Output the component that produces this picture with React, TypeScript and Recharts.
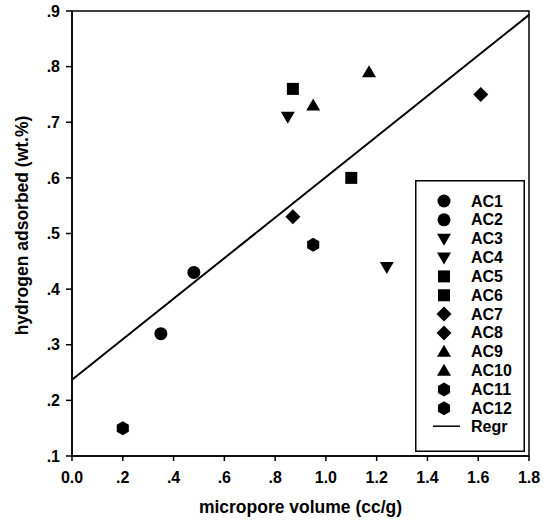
import { ScatterChart, Scatter, XAxis, YAxis, ReferenceArea, ReferenceLine, Legend } from 'recharts'

const FONT = '"Liberation Sans", Arial, Helvetica, sans-serif'

const WIDTH = 551
const HEIGHT = 520

// samples
const sampleNames = ['AC1', 'AC2', 'AC3', 'AC4', 'AC5', 'AC6', 'AC7', 'AC8', 'AC9', 'AC10', 'AC11', 'AC12']
const microporeVolume = [0.35, 0.48, 0.85, 1.24, 0.87, 1.1, 0.87, 1.61, 0.95, 1.17, 0.2, 0.95]
const hydrogenAdsorbed = [0.32, 0.43, 0.71, 0.44, 0.76, 0.6, 0.53, 0.75, 0.73, 0.79, 0.15, 0.48]
const sampleMarkers = ['circle', 'circle', 'down', 'down', 'square', 'square', 'diamond', 'diamond', 'up', 'up', 'hexagon', 'hexagon']

// regression line end points
const regrX = [0, 1.8]
const regrY = [0.237, 0.893]

const xTicks = [0, 0.2, 0.4, 0.6, 0.8, 1.0, 1.2, 1.4, 1.6, 1.8]
const xTickLabels = ['0.0', '.2', '.4', '.6', '.8', '1.0', '1.2', '1.4', '1.6', '1.8']
const yTicks = [0.1, 0.2, 0.3, 0.4, 0.5, 0.6, 0.7, 0.8, 0.9]
const yTickLabels = ['.1', '.2', '.3', '.4', '.5', '.6', '.7', '.8', '.9']

type MarkerKind = string

function Marker({ kind, cx, cy }: { kind: MarkerKind; cx: number; cy: number }) {
  switch (kind) {
    case 'circle':
      return <circle cx={cx} cy={cy} r={6.5} fill="#000" />
    case 'square':
      return <rect x={cx - 6} y={cy - 6} width={12} height={12} fill="#000" />
    case 'diamond':
      return (
        <polygon
          points={`${cx},${cy - 7.5} ${cx + 7.5},${cy} ${cx},${cy + 7.5} ${cx - 7.5},${cy}`}
          fill="#000"
        />
      )
    case 'up':
      return <polygon points={`${cx},${cy - 7} ${cx + 7},${cy + 5} ${cx - 7},${cy + 5}`} fill="#000" />
    case 'down':
      return <polygon points={`${cx - 7},${cy - 5} ${cx + 7},${cy - 5} ${cx},${cy + 7}`} fill="#000" />
    case 'hexagon': {
      const pts = [0, 1, 2, 3, 4, 5]
        .map((k) => {
          const a = ((-90 + 60 * k) * Math.PI) / 180
          return `${cx + 7 * Math.cos(a)},${cy + 7 * Math.sin(a)}`
        })
        .join(' ')
      return <polygon points={pts} fill="#000" />
    }
    default:
      return null
  }
}

function LegendBox() {
  const rowH = 18.85
  const rows = sampleNames.length + 1
  return (
    <svg width={110} height={272} style={{ display: 'block' }}>
      <rect x={0.75} y={0.75} width={108.5} height={270.5} fill="#fff" stroke="#000" strokeWidth={1.5} />
      {sampleNames.map((name, i) => (
        <g key={name}>
          <Marker kind={sampleMarkers[i]} cx={29} cy={21 + i * rowH} />
          <text
            x={56}
            y={21 + i * rowH}
            dominantBaseline="central"
            fontFamily={FONT}
            fontSize={16}
            fontWeight="bold"
            fill="#000"
          >
            {name}
          </text>
        </g>
      ))}
      <line x1={18} x2={45} y1={21 + (rows - 1) * rowH - 1} y2={21 + (rows - 1) * rowH - 1} stroke="#000" strokeWidth={1.5} />
      <text
        x={56}
        y={21 + (rows - 1) * rowH - 1}
        dominantBaseline="central"
        fontFamily={FONT}
        fontSize={16}
        fontWeight="bold"
        fill="#000"
      >
        Regr
      </text>
    </svg>
  )
}

function YTitle(props: any) {
  const vb = props.viewBox || { y: 11, height: 445 }
  const x = 22
  const y = vb.y + vb.height / 2 - 8
  return (
    <text
      x={x}
      y={y}
      transform={`rotate(-90, ${x}, ${y})`}
      textAnchor="middle"
      dominantBaseline="central"
      fontFamily={FONT}
      fontSize={17.5}
      fontWeight="bold"
      fill="#000"
    >
      hydrogen adsorbed (wt.%)
    </text>
  )
}

function XTitle(props: any) {
  const vb = props.viewBox || { x: 72, width: 457 }
  return (
    <text
      x={vb.x + vb.width / 2}
      y={513}
      textAnchor="middle"
      fontFamily={FONT}
      fontSize={17.5}
      fontWeight="bold"
      fill="#000"
    >
      micropore volume (cc/g)
    </text>
  )
}

const tickStyle = { fill: '#000', fontSize: 16, fontWeight: 'bold', fontFamily: FONT }

export default function App() {
  const regr = regrX.map((x, i) => ({ x, y: regrY[i] }))
  return (
    <div style={{ position: 'absolute', left: 0, top: 0, background: '#fff' }}>
      <ScatterChart width={WIDTH} height={HEIGHT} margin={{ top: 11, right: 22, left: 0, bottom: 0 }}>
        <XAxis
          type="number"
          dataKey="x"
          domain={[0, 1.8]}
          ticks={xTicks}
          tickFormatter={(_v: number, i: number) => xTickLabels[i]}
          allowDataOverflow
          height={64}
          tickSize={5}
          tickMargin={11}
          axisLine={{ stroke: '#000', strokeWidth: 1.5 }}
          tickLine={{ stroke: '#000', strokeWidth: 1.5 }}
          tick={tickStyle}
          interval={0}
          label={<XTitle />}
        />
        <YAxis
          type="number"
          dataKey="y"
          domain={[0.1, 0.9]}
          ticks={yTicks}
          tickFormatter={(_v: number, i: number) => yTickLabels[i]}
          allowDataOverflow
          width={72}
          tickSize={6}
          tickMargin={6}
          axisLine={{ stroke: '#000', strokeWidth: 1.5 }}
          tickLine={{ stroke: '#000', strokeWidth: 1.5 }}
          tick={tickStyle}
          interval={0}
          label={<YTitle />}
        />
        <ReferenceArea x1={0} x2={1.8} y1={0.1} y2={0.9} fill="none" stroke="#000" strokeWidth={1.5} />
        <ReferenceLine
          segment={regr}
          stroke="#000"
          strokeWidth={2}
        />
        {sampleNames.map((name, i) => (
          <Scatter
            key={name}
            name={name}
            data={[{ x: microporeVolume[i], y: hydrogenAdsorbed[i] }]}
            isAnimationActive={false}
            shape={(p: any) => <Marker kind={sampleMarkers[i]} cx={p.cx} cy={p.cy} />}
          />
        ))}
        <Legend
          layout="vertical"
          align="center"
          verticalAlign="middle"
          wrapperStyle={{ left: 415, top: 180, width: 110, height: 272 }}
          content={() => <LegendBox />}
        />
      </ScatterChart>
    </div>
  )
}
